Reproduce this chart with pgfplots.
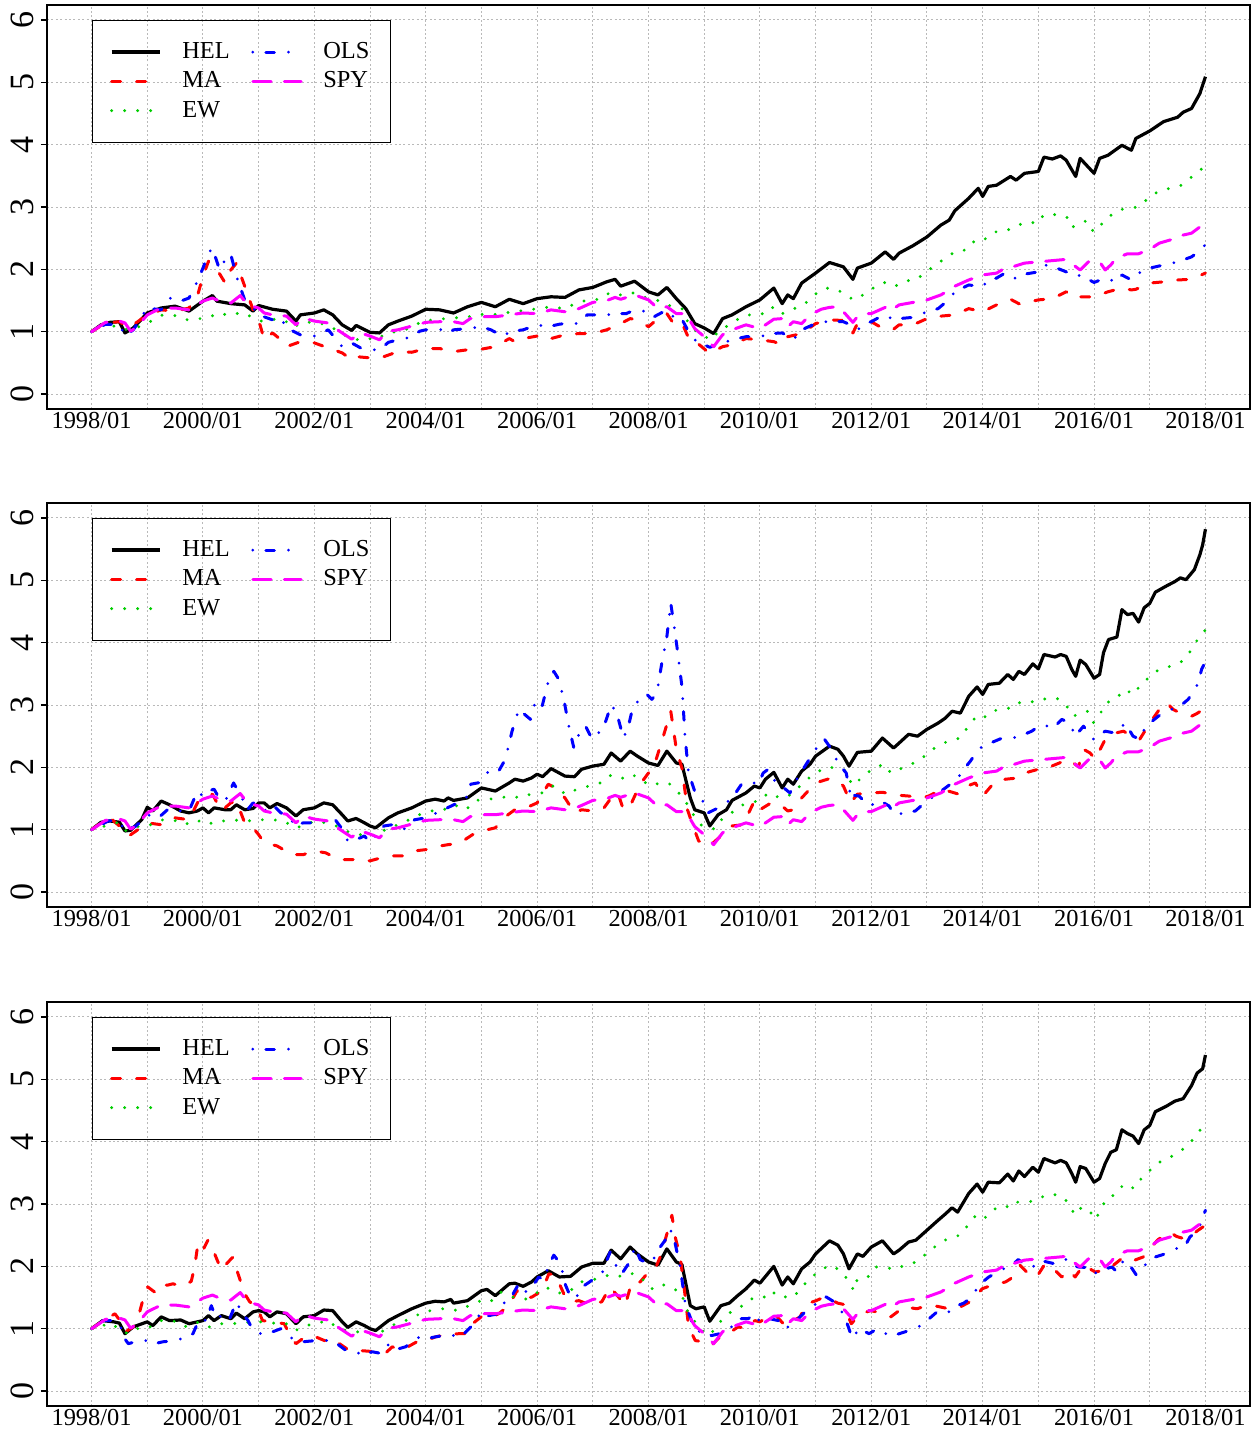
\documentclass[border=0pt]{standalone}
\usepackage{fontspec}
\setmainfont{Liberation Serif}
\usepackage{pgfplots}
\pgfplotsset{compat=1.18}
\usepackage{pgfplotstable}
\definecolor{rgreen}{RGB}{0,205,0}
\definecolor{rred}{RGB}{255,0,0}
\definecolor{rblue}{RGB}{0,0,255}
\definecolor{rmag}{RGB}{255,0,255}
\definecolor{rgrid}{RGB}{185,185,185}

\pgfplotsset{
  helstyle/.style={black, line width=1.6pt, solid, line join=round},
  mastyle/.style={rred, line width=1.5pt, line cap=round, line join=round, dash pattern=on 4.5pt off 8pt},
  ewstyle/.style={rgreen, line width=1.6pt, line cap=round, dash pattern=on 0pt off 6.5pt},
  olsstyle/.style={rblue, line width=1.5pt, line cap=round, line join=round, dash pattern=on 0pt off 6.5pt on 4.3pt off 7.05pt},
  spystyle/.style={rmag, line width=1.5pt, line cap=round, line join=round, dash pattern=on 9.2pt off 6.65pt},
  panel/.style={
    scale only axis, width=601.5pt, height=202pt, anchor=south west,
    xmin=-0.8, xmax=20.8, ymin=-0.24, ymax=6.24,
    xtick={0,...,20},
    xticklabels={1998/01,,2000/01,,2002/01,,2004/01,,2006/01,,2008/01,,2010/01,,2012/01,,2014/01,,2016/01,,2018/01},
    ytick={0,...,6},
    tick pos=left,
    grid=major,
    grid style={line width=0.5pt, color=rgrid, dash pattern=on 1pt off 1.2pt},
    axis line style={line width=0.6pt},
    xtick align=inside, ytick align=outside, major tick length=3pt,
    xtick style={draw=none},
    ytick style={line width=0.6pt, black},
    /pgf/number format/assume math mode=true,
    xticklabel style={font=\fontsize{12.2}{14}\selectfont, inner sep=1.5pt},
    yticklabel style={font=\fontsize{17}{20}\selectfont, rotate=90, anchor=south, inner sep=0pt},
    yticklabel shift=3.5pt,
    legend columns=2,
    legend cell align=left,
    legend image code/.code={\draw[##1] (0pt,0pt) -- (24.2pt,0pt);},
    legend style={at={(axis cs:0,6)}, anchor=north west, draw=black, line width=0.5pt, fill=none,
      font=\fontsize{12.2}{14}\selectfont, inner xsep=9pt, inner ysep=9pt, row sep=1.1pt,
      nodes={inner xsep=1.5pt, inner ysep=2pt, text depth=0.15em},
      /tikz/every odd column/.append style={column sep=8.8pt},
      /tikz/every even column/.append style={column sep=9.3pt}},
  }
}

\pgfplotstableread{
t v
0 1.0
0.25 1.15
0.5 1.17
0.6 1.14
0.7 1.01
0.8 1.06
1.0 1.27
1.25 1.38
1.5 1.38
1.75 1.35
2.0 1.49
2.17 1.54
2.3 1.49
2.5 1.46
2.67 1.58
2.8 1.43
3.0 1.38
3.1 1.30
3.25 1.27
3.5 1.25
3.67 1.11
3.8 1.22
4.0 1.17
4.25 1.14
4.4 1.04
4.5 0.98
4.67 0.88
4.83 0.98
5.0 0.93
5.17 0.87
5.33 1.01
5.5 1.03
5.75 1.09
6.0 1.15
6.25 1.16
6.5 1.16
6.67 1.13
6.8 1.21
7.0 1.24
7.25 1.24
7.5 1.27
7.75 1.30
8.0 1.29
8.25 1.35
8.5 1.32
8.75 1.37
9.0 1.47
9.25 1.50
9.4 1.55
9.5 1.52
9.75 1.59
10.0 1.51
10.17 1.37
10.33 1.40
10.5 1.29
10.67 1.29
10.83 1.05
11.0 0.92
11.17 0.76
11.33 0.95
11.5 1.03
11.75 1.11
12.0 1.05
12.25 1.20
12.4 1.21
12.5 1.08
12.6 1.16
12.75 1.13
12.9 1.27
13.1 1.36
13.25 1.39
13.4 1.40
13.5 1.32
13.67 1.15
13.75 1.24
13.9 1.29
14.0 1.29
14.25 1.39
14.3 1.43
14.4 1.37
14.5 1.43
14.75 1.47
15.0 1.51
15.25 1.59
15.4 1.67
15.5 1.73
15.75 1.83
16.0 1.91
16.25 1.94
16.4 2.02
16.5 2.03
16.75 2.10
17.0 2.12
17.25 2.14
17.5 2.16
17.6 2.09
17.75 1.99
17.9 2.12
18.1 2.12
18.2 1.99
18.3 2.07
18.4 2.18
18.6 2.25
18.8 2.25
19.0 2.32
19.17 2.42
19.4 2.48
19.6 2.55
19.75 2.58
19.9 2.68
20.0 2.75
}\spydata

\begin{document}
\begin{tikzpicture}
\path[use as bounding box] (0pt,0pt) rectangle (628.5pt,-714.5pt);

% ---------------- Panel 1 ----------------
\begin{axis}[panel, at={(23.5pt,-204.5pt)}]
\addplot[helstyle, forget plot] coordinates {
(0,1.0) (0.17,1.11) (0.33,1.15) (0.5,1.16) (0.6,0.98) (0.75,1.06) (1.0,1.30) (1.25,1.38) (1.5,1.41) (1.75,1.33) (2.0,1.49) (2.17,1.58) (2.25,1.49) (2.5,1.45) (2.75,1.43) (2.9,1.33) (3.0,1.42) (3.25,1.36) (3.5,1.33) (3.67,1.17) (3.75,1.27) (4.0,1.30) (4.17,1.35) (4.33,1.27) (4.5,1.11) (4.67,1.02) (4.75,1.10) (5.0,0.99) (5.17,0.98) (5.33,1.11) (5.5,1.17) (5.75,1.25) (6.0,1.36) (6.25,1.35) (6.5,1.30) (6.75,1.40) (7.0,1.47) (7.25,1.40) (7.5,1.52) (7.75,1.45) (8.0,1.53) (8.25,1.56) (8.5,1.55) (8.75,1.67) (9.0,1.71) (9.25,1.80) (9.4,1.84) (9.5,1.73) (9.75,1.81) (10.0,1.64) (10.17,1.59) (10.33,1.71) (10.5,1.53) (10.67,1.37) (10.83,1.13) (11.0,1.06) (11.17,0.97) (11.33,1.21) (11.5,1.27) (11.75,1.40) (12.0,1.51) (12.25,1.70) (12.4,1.45) (12.5,1.59) (12.6,1.53) (12.75,1.78) (13.0,1.94) (13.25,2.11) (13.5,2.04) (13.67,1.84) (13.75,2.02) (14.0,2.10) (14.25,2.28) (14.4,2.16) (14.5,2.26) (14.75,2.38) (15.0,2.52) (15.25,2.71) (15.4,2.79) (15.5,2.94) (15.75,3.14) (15.92,3.30) (16.0,3.17) (16.1,3.33) (16.25,3.35) (16.5,3.49) (16.6,3.43) (16.75,3.54) (17.0,3.57) (17.1,3.80) (17.25,3.77) (17.4,3.82) (17.5,3.75) (17.67,3.49) (17.75,3.78) (18.0,3.54) (18.1,3.78) (18.25,3.83) (18.5,3.99) (18.67,3.91) (18.75,4.10) (19.0,4.22) (19.25,4.37) (19.5,4.44) (19.6,4.52) (19.75,4.58) (19.9,4.82) (20.0,5.09)};
\addplot[mastyle, forget plot] coordinates {
(0,1.0) (0.25,1.14) (0.5,1.16) (0.67,1.06) (1.0,1.27) (1.25,1.35) (1.5,1.33) (1.75,1.38) (1.9,1.57) (2.0,1.89) (2.1,2.13) (2.25,2.0) (2.4,1.78) (2.5,1.99) (2.6,2.10) (2.75,1.73) (2.9,1.35) (3.0,1.19) (3.1,0.87) (3.25,0.98) (3.4,0.87) (3.5,0.76) (3.75,0.84) (4.0,0.82) (4.25,0.74) (4.5,0.66) (4.67,0.55) (4.75,0.60) (5.0,0.58) (5.25,0.60) (5.5,0.68) (5.75,0.67) (6.0,0.73) (6.25,0.73) (6.5,0.68) (6.75,0.71) (7.0,0.72) (7.25,0.76) (7.5,0.89) (7.6,0.84) (7.75,0.89) (8.0,0.93) (8.1,0.87) (8.25,0.89) (8.5,0.95) (8.75,0.97) (9.0,0.97) (9.25,1.03) (9.5,1.13) (9.67,1.21) (9.8,1.19) (10.0,1.08) (10.17,1.21) (10.33,1.29) (10.45,1.13) (10.6,1.14) (10.75,0.84) (10.9,0.80) (11.1,0.65) (11.33,0.76) (11.5,0.79) (11.75,0.89) (12.0,0.87) (12.25,0.84) (12.4,0.79) (12.5,0.92) (12.75,0.97) (13.0,1.13) (13.25,1.19) (13.5,1.18) (13.67,0.98) (13.75,1.13) (14.0,1.16) (14.25,1.03) (14.4,1.04) (14.5,1.11) (14.75,1.11) (15.0,1.21) (15.25,1.25) (15.5,1.27) (15.75,1.37) (16.0,1.32) (16.25,1.43) (16.5,1.52) (16.67,1.44) (16.8,1.47) (17.0,1.51) (17.25,1.53) (17.5,1.64) (17.6,1.55) (17.75,1.56) (18.0,1.56) (18.25,1.64) (18.5,1.70) (18.67,1.67) (18.75,1.68) (19.0,1.78) (19.25,1.80) (19.5,1.83) (19.75,1.84) (20.0,1.94)};
\addplot[ewstyle, forget plot] coordinates {
(0,1.0) (0.25,1.15) (0.55,1.03) (0.8,1.06) (1.07,1.17) (1.28,1.27) (1.49,1.26) (1.68,1.19) (2.09,1.22) (2.27,1.30) (2.48,1.26) (2.69,1.31) (2.87,1.24) (3.04,1.17) (3.25,1.20) (3.46,1.19) (3.61,1.07) (3.82,1.15) (4.03,1.15) (4.21,1.11) (4.39,1.03) (4.57,0.93) (4.75,0.87) (4.93,0.90) (5.10,0.87) (5.31,0.98) (5.55,1.01) (5.73,1.06) (5.94,1.17) (6.15,1.19) (6.36,1.21) (6.78,1.24) (6.99,1.28) (7.19,1.27) (7.40,1.30) (7.61,1.32) (7.82,1.35) (8.03,1.37) (8.24,1.40) (8.48,1.37) (8.69,1.45) (8.90,1.51) (9.13,1.52) (9.31,1.63) (9.49,1.59) (9.70,1.63) (9.88,1.56) (10.06,1.53) (10.24,1.48) (10.42,1.40) (10.60,1.37) (10.72,1.13) (10.90,0.97) (11.13,0.87) (11.28,1.03) (11.46,1.11) (11.67,1.24) (11.82,1.27) (12.03,1.28) (12.21,1.40) (12.36,1.28) (12.51,1.32) (12.66,1.39) (12.81,1.45) (13.01,1.61) (13.19,1.70) (13.40,1.67) (13.60,1.55) (13.71,1.51) (13.85,1.59) (14.05,1.71) (14.23,1.79) (14.41,1.72) (14.60,1.81) (14.81,1.84) (14.99,1.96) (15.15,2.07) (15.33,2.18) (15.50,2.28) (15.66,2.30) (15.81,2.44) (15.99,2.44) (16.14,2.57) (16.33,2.63) (16.50,2.64) (16.64,2.71) (16.79,2.76) (16.99,2.74) (17.09,2.87) (17.31,2.88) (17.51,2.84) (17.60,2.67) (17.72,2.73) (17.87,2.78) (17.99,2.60) (18.14,2.73) (18.29,2.86) (18.47,2.96) (18.67,2.98) (18.82,3.01) (18.97,3.14) (19.15,3.25) (19.36,3.30) (19.57,3.35) (19.75,3.48) (19.91,3.60) (20.0,3.63)};
\addplot[olsstyle, forget plot] coordinates {
(0,1.0) (0.25,1.12) (0.5,1.11) (0.6,0.94) (0.75,1.03) (1.0,1.38) (1.25,1.35) (1.4,1.54) (1.6,1.49) (1.75,1.54) (1.9,1.81) (2.0,2.02) (2.1,2.26) (2.17,2.34) (2.3,1.99) (2.4,2.16) (2.5,2.24) (2.6,1.89) (2.75,1.51) (2.9,1.38) (3.0,1.27) (3.25,1.19) (3.4,1.22) (3.5,1.06) (3.75,0.95) (4.0,0.93) (4.25,1.03) (4.5,0.76) (4.67,0.82) (4.83,0.74) (5.0,0.71) (5.17,0.71) (5.33,0.83) (5.5,0.87) (5.67,0.90) (5.9,1.01) (6.0,1.03) (6.25,1.04) (6.4,0.98) (6.5,1.03) (6.75,1.05) (7.0,1.08) (7.17,1.03) (7.4,0.92) (7.5,1.0) (7.75,1.03) (8.0,1.11) (8.2,1.08) (8.4,1.12) (8.6,1.14) (8.7,1.13) (8.9,1.27) (9.25,1.27) (9.4,1.29) (9.6,1.29) (9.75,1.35) (10.0,1.32) (10.1,1.24) (10.33,1.35) (10.5,1.19) (10.6,1.20) (10.75,0.95) (10.9,0.81) (11.0,0.79) (11.1,0.75) (11.3,0.81) (11.5,0.87) (11.75,0.92) (12.0,0.92) (12.2,0.97) (12.4,0.98) (12.5,0.93) (12.6,0.87) (12.75,1.03) (13.0,1.13) (13.25,1.17) (13.5,1.16) (13.6,1.12) (13.75,1.03) (13.9,1.13) (14.0,1.16) (14.1,1.21) (14.25,1.27) (14.4,1.19) (14.5,1.21) (14.75,1.23) (15.0,1.32) (15.2,1.37) (15.4,1.52) (15.5,1.64) (15.75,1.75) (16.0,1.72) (16.1,1.83) (16.25,1.86) (16.4,1.94) (16.5,1.86) (16.67,1.86) (16.8,1.93) (17.0,1.96) (17.1,2.07) (17.25,2.05) (17.5,1.96) (17.67,1.88) (17.75,1.91) (18.0,1.79) (18.2,1.86) (18.4,1.80) (18.5,1.91) (18.67,1.83) (18.8,1.94) (19.0,2.02) (19.25,2.07) (19.5,2.12) (19.75,2.20) (19.9,2.30) (20.0,2.40)};
\addplot[spystyle, forget plot] table[x=t, y=v] {\spydata};
\addlegendimage{helstyle}\addlegendentry{HEL}
\addlegendimage{olsstyle}\addlegendentry{OLS}
\addlegendimage{mastyle}\addlegendentry{MA}
\addlegendimage{spystyle}\addlegendentry{SPY}
\addlegendimage{ewstyle}\addlegendentry{EW}
\end{axis}

% ---------------- Panel 2 ----------------
\begin{axis}[panel, at={(23.5pt,-453.5pt)}]
\addplot[helstyle, forget plot] coordinates {
(0,1.0) (0.17,1.12) (0.33,1.14) (0.5,1.12) (0.6,0.98) (0.7,0.99) (0.9,1.16) (1.0,1.36) (1.1,1.30) (1.25,1.46) (1.4,1.40) (1.6,1.30) (1.75,1.27) (1.9,1.30) (2.0,1.35) (2.1,1.27) (2.2,1.35) (2.4,1.32) (2.5,1.32) (2.6,1.40) (2.75,1.32) (2.9,1.34) (3.0,1.43) (3.1,1.43) (3.2,1.35) (3.33,1.42) (3.5,1.35) (3.67,1.22) (3.8,1.32) (4.0,1.35) (4.17,1.43) (4.33,1.40) (4.5,1.24) (4.6,1.14) (4.75,1.18) (4.9,1.11) (5.0,1.06) (5.1,1.03) (5.33,1.19) (5.5,1.27) (5.75,1.35) (6.0,1.46) (6.17,1.49) (6.33,1.46) (6.4,1.51) (6.5,1.47) (6.75,1.51) (7.0,1.67) (7.1,1.65) (7.25,1.62) (7.5,1.75) (7.6,1.81) (7.75,1.78) (7.9,1.83) (8.0,1.89) (8.1,1.85) (8.25,1.98) (8.5,1.86) (8.67,1.85) (8.8,1.97) (9.0,2.02) (9.2,2.05) (9.33,2.23) (9.5,2.10) (9.67,2.26) (9.8,2.18) (10.0,2.07) (10.17,2.03) (10.33,2.26) (10.5,2.07) (10.6,2.05) (10.75,1.51) (10.83,1.32) (11.0,1.27) (11.1,1.06) (11.25,1.24) (11.4,1.32) (11.5,1.47) (11.75,1.59) (11.9,1.70) (12.0,1.67) (12.1,1.81) (12.25,1.92) (12.4,1.67) (12.5,1.81) (12.6,1.73) (12.75,1.94) (12.9,2.05) (13.0,2.18) (13.25,2.34) (13.4,2.29) (13.5,2.18) (13.6,2.02) (13.75,2.24) (14.0,2.26) (14.2,2.47) (14.4,2.31) (14.5,2.39) (14.67,2.53) (14.83,2.50) (15.0,2.61) (15.2,2.71) (15.33,2.79) (15.45,2.90) (15.6,2.87) (15.75,3.14) (15.9,3.29) (16.0,3.17) (16.1,3.33) (16.3,3.35) (16.45,3.49) (16.55,3.41) (16.65,3.54) (16.75,3.49) (16.9,3.66) (17.0,3.58) (17.1,3.81) (17.3,3.77) (17.4,3.81) (17.5,3.78) (17.6,3.57) (17.67,3.46) (17.75,3.72) (17.85,3.65) (18.0,3.43) (18.1,3.49) (18.17,3.84) (18.26,4.05) (18.41,4.09) (18.5,4.53) (18.6,4.45) (18.7,4.47) (18.8,4.33) (18.9,4.56) (19.0,4.63) (19.1,4.81) (19.3,4.91) (19.45,4.98) (19.55,5.04) (19.65,5.01) (19.8,5.17) (19.9,5.41) (19.95,5.57) (20.0,5.82)};
\addplot[mastyle, forget plot] coordinates {
(0,1.0) (0.17,1.11) (0.33,1.19) (0.5,1.06) (0.67,0.90) (0.8,0.98) (1.0,1.11) (1.25,1.08) (1.5,1.19) (1.75,1.16) (1.9,1.43) (2.0,1.51) (2.17,1.57) (2.33,1.30) (2.5,1.43) (2.6,1.46) (2.75,1.11) (2.9,1.03) (3.0,0.92) (3.1,0.79) (3.33,0.74) (3.6,0.60) (3.8,0.60) (4.0,0.66) (4.2,0.63) (4.45,0.52) (4.67,0.52) (4.8,0.53) (5.0,0.50) (5.2,0.55) (5.4,0.58) (5.6,0.58) (5.8,0.66) (6.0,0.68) (6.2,0.73) (6.4,0.76) (6.6,0.78) (6.84,0.92) (7.01,0.98) (7.25,1.03) (7.4,1.19) (7.6,1.32) (7.8,1.35) (8.0,1.43) (8.2,1.73) (8.33,1.67) (8.5,1.51) (8.67,1.27) (8.8,1.32) (9.0,1.30) (9.2,1.35) (9.33,1.51) (9.45,1.59) (9.55,1.32) (9.67,1.38) (9.85,1.73) (10.0,1.91) (10.1,2.02) (10.25,2.45) (10.4,2.90) (10.5,2.29) (10.6,1.99) (10.7,1.32) (10.8,1.06) (10.9,0.82) (11.1,0.74) (11.3,0.90) (11.5,1.06) (11.7,1.08) (11.9,1.46) (12.0,1.32) (12.2,1.43) (12.4,1.38) (12.5,1.30) (12.6,1.32) (12.75,1.51) (13.0,1.75) (13.25,1.82) (13.4,1.78) (13.5,1.70) (13.63,1.43) (13.75,1.57) (14.02,1.59) (14.2,1.60) (14.53,1.55) (14.67,1.54) (14.91,1.51) (15.03,1.54) (15.27,1.65) (15.57,1.57) (15.72,1.70) (15.87,1.75) (16.0,1.54) (16.23,1.78) (16.41,1.81) (16.64,1.83) (16.76,1.91) (17.0,1.97) (17.24,2.02) (17.54,2.13) (17.72,2.01) (17.81,2.29) (17.93,2.23) (18.02,2.13) (18.2,2.45) (18.38,2.55) (18.53,2.58) (18.67,2.50) (18.82,2.45) (19.0,2.71) (19.15,2.90) (19.3,3.04) (19.42,2.93) (19.57,2.86) (19.75,2.82) (19.84,2.86) (20.0,2.95)};
\addplot[ewstyle, forget plot] coordinates {
(0,1.0) (0.45,1.11) (0.57,0.98) (0.72,1.0) (0.90,1.08) (1.10,1.08) (1.28,1.16) (1.46,1.16) (1.67,1.08) (1.88,1.16) (2.06,1.08) (2.27,1.14) (2.48,1.14) (2.69,1.16) (2.87,1.14) (3.07,1.16) (3.25,1.16) (3.46,1.14) (3.64,1.03) (3.82,1.06) (4.0,1.14) (4.21,1.11) (4.39,1.06) (4.57,0.98) (4.75,0.92) (4.96,0.92) (5.13,0.90) (5.31,1.03) (5.52,1.08) (5.70,1.16) (5.88,1.24) (6.09,1.30) (6.30,1.31) (6.51,1.40) (6.72,1.32) (6.90,1.47) (7.13,1.49) (7.34,1.51) (7.52,1.54) (7.70,1.51) (7.88,1.57) (8.09,1.59) (8.30,1.71) (8.51,1.57) (8.72,1.65) (8.93,1.70) (9.13,1.75) (9.31,1.87) (9.49,1.81) (9.69,1.89) (9.85,1.82) (10.01,1.71) (10.18,1.74) (10.36,1.75) (10.63,1.51) (10.78,1.27) (10.96,1.06) (11.19,1.01) (11.31,1.16) (11.49,1.27) (11.64,1.38) (11.82,1.44) (12.0,1.46) (12.15,1.59) (12.36,1.51) (12.51,1.54) (12.66,1.65) (12.81,1.78) (12.99,1.90) (13.16,1.99) (13.37,2.0) (13.53,1.95) (13.66,1.71) (13.87,1.86) (14.02,1.98) (14.23,2.05) (14.35,1.91) (14.56,1.99) (14.76,2.07) (14.94,2.17) (15.12,2.30) (15.30,2.39) (15.45,2.44) (15.60,2.47) (15.72,2.63) (15.86,2.79) (15.99,2.76) (16.11,2.88) (16.33,2.94) (16.48,2.95) (16.60,3.04) (16.76,3.03) (16.93,3.06) (17.03,3.06) (17.15,3.11) (17.36,3.10) (17.51,2.98) (17.63,2.82) (17.75,2.87) (17.89,2.90) (17.99,2.72) (18.11,2.86) (18.21,3.03) (18.41,3.11) (18.54,3.25) (18.72,3.17) (18.82,3.31) (18.97,3.43) (19.15,3.56) (19.36,3.62) (19.56,3.69) (19.70,3.82) (19.82,4.0) (19.96,4.17) (20.0,4.2)};
\addplot[olsstyle, forget plot] coordinates {
(0,1.0) (0.3,1.14) (0.5,1.14) (0.6,0.98) (0.8,1.06) (1.0,1.24) (1.2,1.19) (1.4,1.35) (1.6,1.30) (1.75,1.30) (1.9,1.62) (2.0,1.54) (2.1,1.62) (2.2,1.65) (2.3,1.49) (2.4,1.46) (2.55,1.75) (2.7,1.51) (2.8,1.32) (2.9,1.43) (3.0,1.38) (3.1,1.30) (3.25,1.40) (3.4,1.27) (3.55,1.22) (3.65,1.06) (3.8,1.11) (4.0,1.11) (4.2,1.14) (4.35,1.19) (4.5,1.01) (4.6,0.82) (4.75,0.84) (4.9,0.90) (5.0,0.79) (5.1,0.90) (5.25,1.06) (5.4,1.08) (5.6,1.0) (5.8,1.16) (6.0,1.19) (6.27,1.30) (6.48,1.39) (6.72,1.49) (6.81,1.73) (6.99,1.76) (7.13,1.94) (7.31,1.94) (7.43,2.13) (7.55,2.58) (7.67,2.93) (7.88,2.77) (7.97,3.06) (8.09,2.98) (8.21,3.41) (8.30,3.54) (8.39,3.41) (8.48,3.09) (8.57,2.66) (8.66,2.31) (8.75,2.53) (8.87,2.66) (8.99,2.45) (9.10,2.55) (9.19,2.63) (9.28,2.87) (9.34,3.01) (9.46,2.77) (9.55,2.47) (9.64,2.66) (9.73,3.01) (9.82,3.06) (9.97,3.17) (10.06,3.09) (10.15,3.19) (10.24,3.68) (10.33,4.10) (10.40,4.63) (10.45,4.32) (10.51,3.94) (10.60,3.30) (10.66,2.45) (10.72,1.91) (10.84,1.59) (10.96,1.49) (11.07,1.27) (11.25,1.35) (11.49,1.49) (11.67,1.73) (11.79,1.78) (11.97,1.73) (12.06,1.91) (12.15,1.97) (12.27,1.78) (12.39,1.70) (12.54,1.59) (12.69,1.86) (12.81,2.02) (12.96,2.23) (13.04,2.34) (13.16,2.45) (13.31,2.26) (13.40,2.07) (13.55,1.91) (13.64,1.49) (13.7,1.55) (13.78,1.54) (13.96,1.38) (14.17,1.46) (14.32,1.38) (14.41,1.24) (14.61,1.27) (14.79,1.30) (14.97,1.44) (15.21,1.59) (15.54,1.81) (15.66,1.97) (15.78,2.10) (15.93,2.30) (16.14,2.39) (16.35,2.47) (16.53,2.47) (16.67,2.50) (16.88,2.58) (17.06,2.69) (17.27,2.63) (17.42,2.77) (17.57,2.71) (17.66,2.50) (17.81,2.66) (17.99,2.45) (18.2,2.58) (18.38,2.55) (18.56,2.71) (18.7,2.50) (18.82,2.45) (18.88,2.58) (19.0,2.71) (19.21,2.86) (19.39,2.93) (19.54,2.98) (19.69,3.09) (19.87,3.35) (19.93,3.57) (20.0,3.70)};
\addplot[spystyle, forget plot] table[x=t, y=v] {\spydata};
\addlegendimage{helstyle}\addlegendentry{HEL}
\addlegendimage{olsstyle}\addlegendentry{OLS}
\addlegendimage{mastyle}\addlegendentry{MA}
\addlegendimage{spystyle}\addlegendentry{SPY}
\addlegendimage{ewstyle}\addlegendentry{EW}
\end{axis}

% ---------------- Panel 3 ----------------
\begin{axis}[panel, at={(23.5pt,-703pt)}]
\addplot[helstyle, forget plot] coordinates {
(0,1.0) (0.2,1.13) (0.4,1.11) (0.5,1.09) (0.6,0.92) (0.75,1.03) (1.0,1.11) (1.1,1.05) (1.25,1.19) (1.4,1.13) (1.6,1.14) (1.75,1.08) (2.0,1.13) (2.1,1.21) (2.2,1.13) (2.33,1.21) (2.5,1.16) (2.6,1.25) (2.75,1.16) (2.9,1.27) (3.0,1.29) (3.1,1.27) (3.2,1.19) (3.33,1.27) (3.5,1.24) (3.67,1.08) (3.8,1.19) (4.0,1.21) (4.17,1.30) (4.33,1.29) (4.5,1.11) (4.6,1.02) (4.75,1.11) (4.9,1.05) (5.0,1.0) (5.1,0.97) (5.33,1.13) (5.5,1.21) (5.75,1.32) (6.0,1.41) (6.17,1.44) (6.33,1.43) (6.45,1.47) (6.5,1.41) (6.75,1.45) (7.0,1.61) (7.1,1.63) (7.25,1.53) (7.5,1.72) (7.6,1.73) (7.75,1.68) (7.9,1.75) (8.0,1.83) (8.2,1.93) (8.4,1.83) (8.6,1.84) (8.8,1.99) (9.0,2.05) (9.2,2.05) (9.33,2.26) (9.5,2.12) (9.67,2.31) (9.8,2.20) (10.0,2.07) (10.17,2.02) (10.33,2.28) (10.5,2.07) (10.6,2.03) (10.75,1.37) (10.85,1.32) (11.0,1.35) (11.1,1.12) (11.3,1.37) (11.45,1.41) (11.6,1.53) (11.75,1.64) (11.9,1.78) (12.0,1.73) (12.25,2.0) (12.4,1.70) (12.5,1.83) (12.6,1.72) (12.75,1.96) (12.9,2.07) (13.0,2.20) (13.25,2.41) (13.4,2.34) (13.5,2.20) (13.6,1.96) (13.75,2.20) (13.85,2.16) (14.0,2.31) (14.2,2.41) (14.4,2.20) (14.5,2.26) (14.67,2.39) (14.8,2.42) (15.0,2.58) (15.2,2.74) (15.33,2.84) (15.45,2.94) (15.55,2.87) (15.75,3.17) (15.9,3.32) (16.0,3.19) (16.1,3.35) (16.3,3.34) (16.45,3.48) (16.55,3.37) (16.65,3.53) (16.75,3.44) (16.9,3.59) (17.0,3.51) (17.1,3.73) (17.3,3.66) (17.4,3.70) (17.5,3.66) (17.6,3.49) (17.67,3.35) (17.75,3.60) (17.85,3.57) (18.0,3.35) (18.1,3.41) (18.2,3.65) (18.3,3.83) (18.4,3.87) (18.5,4.19) (18.6,4.13) (18.7,4.09) (18.8,3.97) (18.9,4.19) (19.0,4.26) (19.1,4.48) (19.3,4.57) (19.45,4.65) (19.6,4.69) (19.75,4.90) (19.85,5.10) (19.95,5.17) (20.0,5.39)};
\addplot[mastyle, forget plot] coordinates {
(0,1.0) (0.18,1.11) (0.42,1.24) (0.51,1.13) (0.61,0.95) (0.75,1.03) (0.87,1.29) (0.96,1.59) (1.01,1.67) (1.13,1.59) (1.19,1.70) (1.37,1.70) (1.46,1.72) (1.64,1.68) (1.79,1.76) (1.85,1.99) (1.91,2.36) (2.0,2.26) (2.09,2.42) (2.21,2.20) (2.33,1.94) (2.42,2.04) (2.54,2.15) (2.63,1.88) (2.75,1.56) (2.84,1.43) (2.96,1.37) (3.07,1.13) (3.25,1.11) (3.46,1.08) (3.58,0.86) (3.67,0.76) (3.79,0.84) (3.97,0.89) (4.18,0.81) (4.33,0.84) (4.45,0.76) (4.63,0.65) (4.81,0.65) (4.96,0.64) (5.10,0.63) (5.28,0.61) (5.40,0.71) (5.52,0.66) (5.70,0.72) (5.88,0.81) (6.0,0.81) (6.18,0.87) (6.39,0.91) (6.6,0.92) (6.75,0.92) (6.84,1.08) (7.01,1.20) (7.10,1.16) (7.31,1.24) (7.49,1.37) (7.64,1.61) (7.79,1.48) (7.91,1.51) (8.09,1.61) (8.21,1.88) (8.33,1.86) (8.48,1.56) (8.60,1.43) (8.75,1.45) (8.90,1.40) (8.99,1.41) (9.16,1.43) (9.31,1.67) (9.46,1.51) (9.58,1.37) (9.70,1.75) (9.85,1.75) (10.03,1.94) (10.12,1.96) (10.21,2.15) (10.33,2.52) (10.42,2.82) (10.48,2.47) (10.57,2.15) (10.66,1.51) (10.72,1.03) (10.84,0.81) (10.99,0.79) (11.13,0.73) (11.28,0.87) (11.43,0.92) (11.61,1.03) (11.76,1.0) (11.91,1.13) (12.0,1.11) (12.18,1.21) (12.30,1.20) (12.45,1.05) (12.57,1.11) (12.72,1.19) (12.84,1.40) (13.01,1.45) (13.16,1.51) (13.40,1.41) (13.50,1.39) (13.64,1.08) (13.81,1.24) (13.99,1.29) (14.2,1.25) (14.35,1.19) (14.59,1.35) (14.82,1.32) (15.0,1.37) (15.18,1.36) (15.39,1.32) (15.6,1.35) (15.81,1.45) (15.99,1.64) (16.17,1.70) (16.41,1.75) (16.5,1.80) (16.67,2.02) (16.82,1.88) (16.97,1.83) (17.12,2.04) (17.27,1.96) (17.42,1.83) (17.54,1.94) (17.66,1.83) (17.81,2.02) (18.02,1.91) (18.2,1.94) (18.35,2.02) (18.53,2.15) (18.73,2.10) (18.88,2.15) (19.0,2.28) (19.15,2.43) (19.36,2.55) (19.48,2.48) (19.63,2.44) (19.75,2.50) (19.87,2.58) (20.0,2.66)};
\addplot[ewstyle, forget plot] coordinates {
(0,1.0) (0.36,1.09) (0.54,0.95) (0.70,0.92) (0.87,1.03) (1.07,1.03) (1.25,1.13) (1.46,1.13) (1.67,1.03) (1.88,1.11) (2.09,1.02) (2.27,1.08) (2.48,1.08) (2.69,1.09) (2.87,1.11) (3.06,1.11) (3.25,1.09) (3.48,1.09) (3.66,0.97) (3.85,1.05) (4.06,1.09) (4.24,1.13) (4.39,1.03) (4.57,0.97) (4.78,0.95) (4.96,0.92) (5.16,0.92) (5.34,1.03) (5.55,1.11) (5.75,1.16) (5.94,1.27) (6.18,1.30) (6.37,1.33) (6.57,1.29) (6.78,1.37) (6.99,1.45) (7.16,1.43) (7.34,1.59) (7.55,1.51) (7.78,1.47) (7.97,1.56) (8.15,1.67) (8.36,1.57) (8.57,1.59) (8.78,1.75) (8.99,1.78) (9.16,1.83) (9.34,1.87) (9.55,1.83) (9.73,1.89) (9.91,1.78) (10.06,1.64) (10.24,1.72) (10.39,1.64) (10.57,1.61) (10.72,1.24) (10.96,0.97) (11.10,0.89) (11.25,1.08) (11.40,1.21) (11.55,1.32) (11.70,1.37) (11.85,1.48) (12.04,1.48) (12.21,1.61) (12.33,1.51) (12.48,1.51) (12.60,1.50) (12.75,1.67) (12.90,1.80) (13.04,1.91) (13.25,2.02) (13.44,1.94) (13.59,1.77) (13.69,1.61) (13.75,1.80) (13.96,1.84) (14.09,1.99) (14.29,1.98) (14.41,1.95) (14.61,2.02) (14.81,2.07) (14.97,2.19) (15.15,2.32) (15.32,2.42) (15.48,2.47) (15.62,2.51) (15.74,2.67) (15.88,2.82) (16.02,2.76) (16.17,2.90) (16.36,2.98) (16.50,2.94) (16.61,3.03) (16.76,3.03) (16.94,3.05) (17.06,3.11) (17.19,3.16) (17.39,3.14) (17.54,3.02) (17.65,2.83) (17.73,2.93) (17.90,2.93) (18.01,2.75) (18.13,2.90) (18.20,3.07) (18.41,3.17) (18.53,3.32) (18.72,3.25) (18.82,3.38) (18.97,3.51) (19.12,3.65) (19.33,3.73) (19.51,3.83) (19.68,3.93) (19.82,4.09) (19.96,4.25) (20.0,4.28)};
\addplot[olsstyle, forget plot] coordinates {
(0,1.0) (0.21,1.13) (0.36,1.13) (0.51,1.08) (0.57,0.87) (0.66,0.76) (0.87,0.81) (0.99,0.81) (1.13,0.76) (1.28,0.79) (1.52,0.81) (1.70,0.87) (1.82,0.92) (1.94,1.16) (2.06,1.13) (2.15,1.37) (2.24,1.16) (2.39,1.24) (2.48,1.16) (2.60,1.43) (2.69,1.27) (2.81,1.13) (2.90,0.97) (3.04,0.92) (3.25,0.95) (3.40,1.0) (3.52,0.89) (3.61,0.84) (3.79,0.79) (4.03,0.81) (4.21,0.81) (4.33,0.81) (4.45,0.73) (4.57,0.65) (4.75,0.63) (4.87,0.57) (5.04,0.63) (5.22,0.60) (5.34,0.76) (5.52,0.68) (5.64,0.71) (5.85,0.86) (6.0,0.84) (6.18,0.87) (6.39,0.90) (6.48,0.88) (6.6,0.95) (6.69,0.92) (6.81,1.03) (6.84,1.11) (7.04,1.28) (7.13,1.21) (7.31,1.24) (7.43,1.45) (7.55,1.53) (7.67,1.72) (7.79,1.59) (7.91,1.67) (8.03,1.83) (8.12,1.78) (8.21,2.02) (8.30,2.18) (8.42,2.04) (8.51,1.70) (8.60,1.51) (8.69,1.48) (8.81,1.67) (8.99,1.78) (9.16,1.88) (9.31,2.23) (9.43,1.99) (9.52,1.88) (9.64,2.04) (9.76,2.31) (9.85,2.11) (10.0,2.04) (10.12,2.15) (10.21,2.31) (10.30,2.42) (10.39,2.60) (10.48,2.36) (10.57,1.99) (10.66,1.40) (10.78,1.11) (10.87,0.95) (10.99,0.97) (11.13,0.89) (11.28,0.92) (11.49,1.03) (11.64,1.16) (11.79,1.16) (11.91,1.24) (12.0,1.11) (12.18,1.16) (12.33,1.13) (12.42,1.0) (12.57,1.05) (12.72,1.19) (12.87,1.32) (13.01,1.40) (13.19,1.51) (13.37,1.41) (13.49,1.24) (13.58,1.05) (13.66,0.84) (13.78,1.0) (13.96,0.92) (14.11,1.0) (14.32,0.89) (14.47,0.91) (14.64,0.96) (14.85,1.03) (15.0,1.13) (15.18,1.27) (15.36,1.24) (15.48,1.35) (15.66,1.41) (15.81,1.51) (15.93,1.70) (16.11,1.83) (16.35,1.95) (16.53,2.02) (16.64,2.11) (16.73,2.04) (16.88,1.98) (17.06,2.09) (17.3,2.04) (17.48,2.12) (17.6,2.02) (17.72,1.99) (17.90,1.98) (17.99,1.88) (18.14,1.94) (18.32,1.99) (18.41,1.91) (18.53,2.10) (18.67,1.98) (18.76,1.86) (18.88,1.99) (19.06,2.14) (19.24,2.19) (19.45,2.28) (19.63,2.32) (19.72,2.47) (19.87,2.58) (20.0,2.90)};
\addplot[spystyle, forget plot] table[x=t, y=v] {\spydata};
\addlegendimage{helstyle}\addlegendentry{HEL}
\addlegendimage{olsstyle}\addlegendentry{OLS}
\addlegendimage{mastyle}\addlegendentry{MA}
\addlegendimage{spystyle}\addlegendentry{SPY}
\addlegendimage{ewstyle}\addlegendentry{EW}
\end{axis}
\end{tikzpicture}
\end{document}
